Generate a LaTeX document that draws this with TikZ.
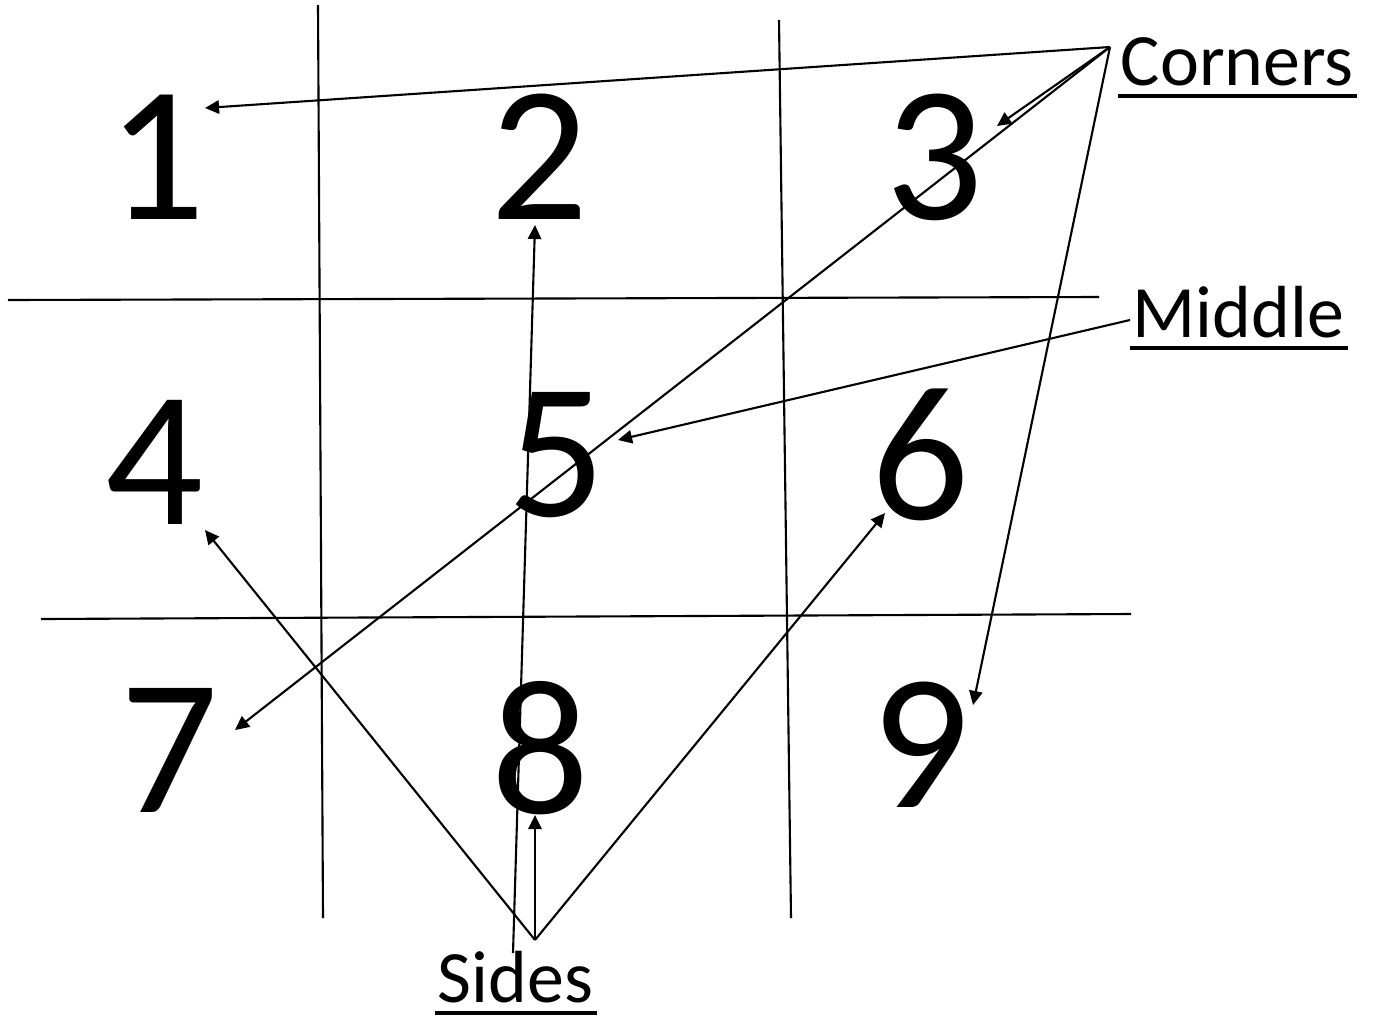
\documentclass[tikz,border=0pt]{standalone}
\usepackage{fontspec}
\setmainfont{Carlito}
\usetikzlibrary{positioning, calc, arrows.meta}

\begin{document}
\begin{tikzpicture}[x=0.01cm, y=-0.01cm, >={Triangle[length=4pt,width=3.8pt]},
    digit/.style={inner sep=0pt, font=\fontsize{55}{60}\selectfont},
    label/.style={inner sep=0pt, anchor=base west, font=\fontsize{21}{24}\selectfont},
    uline/.style={line width=1.3pt},
    arr/.style={->, line width=0.6pt}]
    \useasboundingbox (0,0) rectangle (1376,1018);

    % Grid
    \draw[line width=0.6pt] (318,5) -- (323,918);
    \draw[line width=0.6pt] (779,20) -- (791,918);
    \draw[line width=0.6pt] (8,300) -- (1099,297);
    \draw[line width=0.6pt] (41,619) -- (1131,614);

    % Squares
    \node[digit] (n1) at (157,157) {1};
    \node[digit] (n2) at (540,157) {2};
    \node[digit] (n3) at (935,157) {3};
    \node[digit] (n4) at (155,462) {4};
    \node[digit] (n5) at (557,455) {5};
    \node[digit] (n6) at (920,455) {6};
    \node[digit] (n7) at (170,750) {7};
    \node[digit] (n8) at (541,748) {8};
    \node[digit] (n9) at (920,745) {9};

    % Labels
    \node[label] (corners) at (1120,85) {Corners};
    \node[label] (middle) at (1132,337) {Middle};
    \node[label] (sides) at (437,1002) {Sides};
    \draw[uline] ($(corners.base west)+(-2,11)$) -- ($(corners.base east)+(3,11)$);
    \draw[uline] ($(middle.base west)+(-2,11)$) -- ($(middle.base east)+(3,11)$);
    \draw[uline] ($(sides.base west)+(-2,11)$) -- ($(sides.base east)+(3,11)$);

    \coordinate (cfrom) at ($(corners.base west)+(-10,-38)$);
    \coordinate (mfrom) at ($(middle.base west)+(-2,-17)$);
    \coordinate (sfrom) at ($(sides.base west)+(98,-62)$);
    \coordinate (sfrom2) at ($(sides.base west)+(76,-49)$);

    % Corners
    \draw[arr] (cfrom) -- ($(n1)+(48,-49)$);
    \draw[arr] (cfrom) -- ($(n3)+(62,-31)$);
    \draw[arr] (cfrom) -- ($(n7)+(65,-20)$);
    \draw[arr] (cfrom) -- ($(n9)+(53,-40)$);

    % Middle
    \draw[arr] (mfrom) -- ($(n5)+(61,-15)$);

    % Sides
    \draw[arr] (sfrom) -- ($(n4)+(50,68)$);
    \draw[arr] (sfrom) -- ($(n6)+(-35,58)$);
    \draw[arr] (sfrom) -- ($(n8)+(-6,67)$);
    \draw[arr] (sfrom2) -- ($(n2)+(-5,68)$);

\end{tikzpicture}
\end{document}
